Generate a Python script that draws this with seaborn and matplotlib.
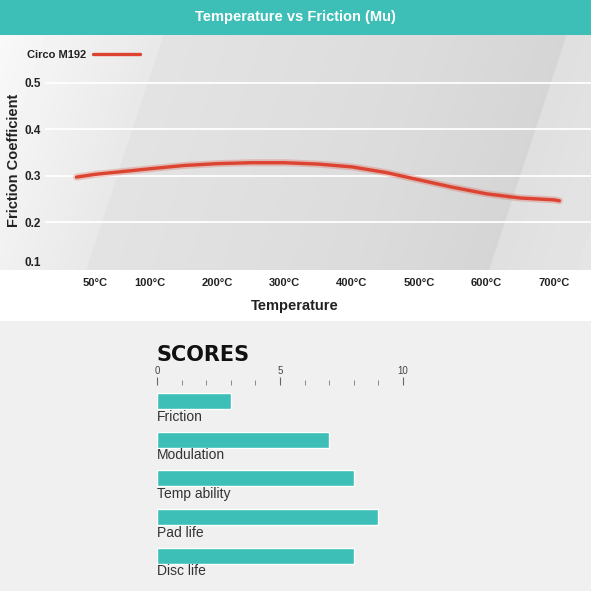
"""
Temperature vs friction curve for the Circo M192 pad, with its score card below.
"""

import numpy as np
import pandas as pd
import matplotlib
matplotlib.use('Agg')
import matplotlib.pyplot as plt
import seaborn as sns

# ─ data ─
temp_ticks = [50, 100, 200, 300, 400, 500, 600, 700]
temp_labels = ['50°C', '100°C', '200°C', '300°C', '400°C', '500°C', '600°C', '700°C']

curve_temp = [33, 50, 100, 150, 200, 250, 300, 350, 400, 450, 500, 550, 600, 650, 700, 708]
curve_mu = [0.297, 0.303, 0.315, 0.322, 0.326, 0.328, 0.328, 0.325, 0.319, 0.307,
            0.291, 0.275, 0.261, 0.252, 0.248, 0.246]
series_name = 'Circo M192'

score_names = ['Friction', 'Modulation', 'Temp ability', 'Pad life', 'Disc life']
score_values = [3, 7, 8, 9, 8]

TEAL = '#3dbfb7'
RED = '#dc4330'
W = H = 591


def axis_pos(t):
    # the chart draws the 50->100°C step wider than the other 100°C steps
    t = np.asarray(t, dtype=float)
    return np.where(t >= 100, t, 100 - (100 - t) * 1.63)


def fig_box(x0, y0, x1, y1):
    """pixel box (top-left origin) -> figure fraction rect"""
    return [x0 / W, 1 - y1 / H, (x1 - x0) / W, (y1 - y0) / H]


sns.set_theme(style='white')
plt.rcParams['font.family'] = ['Liberation Sans Narrow', 'Liberation Sans', 'DejaVu Sans']

fig = plt.figure(figsize=(5.91, 5.91), dpi=100)
fig.patch.set_facecolor('#f0f0f0')

# white upper half
white = fig.add_axes(fig_box(0, 0, W, 321))
white.set_facecolor('white')
white.set_xticks([]); white.set_yticks([])
for s in white.spines.values():
    s.set_visible(False)

# title banner
banner = fig.add_axes(fig_box(0, 0, W, 35))
banner.set_facecolor(TEAL)
banner.set_xticks([]); banner.set_yticks([])
for s in banner.spines.values():
    s.set_visible(False)
banner.text(0.5, 0.5, 'Temperature vs Friction (Mu)', color='white', fontsize=10.5,
            fontweight='bold', ha='center', va='center', transform=banner.transAxes,
            family=['Liberation Sans', 'DejaVu Sans'])

# shaded panel with slanted light bands
bg = fig.add_axes(fig_box(0, 35, W, 270))
xx, yy = np.meshgrid(np.arange(W), np.arange(35, 270))
s = xx + 0.33 * (yy - 35)
shade = np.interp(s, [0, 162, 164, 430, 565, 567, 700],
                  [0.975, 0.91, 0.89, 0.86, 0.835, 0.875, 0.905])
bg.imshow(shade, cmap='gray', vmin=0, vmax=1, aspect='auto',
          extent=[0, W, 270, 35])
bg.set_axis_off()

# ─ line chart ─
ax = fig.add_axes(fig_box(45, 35, W, 270))
ax.patch.set_alpha(0)
sns.lineplot(x=axis_pos(curve_temp), y=curve_mu, ax=ax, color=RED, lw=5,
             alpha=0.25, sort=False)
sns.lineplot(x=axis_pos(curve_temp), y=curve_mu, ax=ax, color=RED, lw=2.4,
             label=series_name, sort=False)

ax.set_xlim(-56, 755)
ax.set_ylim(0.097, 0.603)
ax.set_xticks(axis_pos(temp_ticks))
ax.set_xticklabels(temp_labels)
ax.set_yticks([0.1, 0.2, 0.3, 0.4, 0.5])
ax.set_yticklabels(['0.1', '0.2', '0.3', '0.4', '0.5'])
ax.yaxis.grid(True, color='white', lw=1.3)
ax.xaxis.grid(False)
ax.yaxis.get_gridlines()[0].set_visible(False)
ax.yaxis.get_ticklabels()[0].set_va('bottom')
for sp in ax.spines.values():
    sp.set_visible(False)
ax.tick_params(axis='x', length=0, pad=6, labelsize=8, labelcolor='#222')
ax.tick_params(axis='y', length=0, pad=3, labelsize=8.5, labelcolor='#222')
for lab in ax.get_xticklabels() + ax.get_yticklabels():
    lab.set_fontweight('bold')

ax.set_xlabel('Temperature', fontsize=10.5, fontweight='bold', color='#222')
ax.set_ylabel('Friction Coefficient', fontsize=10.5, fontweight='bold', color='#222')
ax.xaxis.set_label_coords((295 - 45) / 546, -(299 - 270) / 235)
ax.yaxis.set_label_coords(-(45 - 21) / 546, (270 - 160) / 235)

leg = ax.legend(loc='center left', bbox_to_anchor=(27 / W, 1 - 55 / H),
                bbox_transform=fig.transFigure, frameon=False, markerfirst=False,
                handlelength=4.2, handletextpad=0.6, borderpad=0, borderaxespad=0,
                prop={'weight': 'bold', 'size': 8})
for t in leg.get_texts():
    t.set_color('#222')

# ─ scores ─
fig.text(157 / W, 1 - 355 / H, 'SCORES', fontsize=15, fontweight='heavy',
         ha='left', va='center', color='#111', family=['DejaVu Sans'])

ax2 = fig.add_axes(fig_box(157, 385, 403, 580))
ax2.patch.set_alpha(0)
scores = pd.DataFrame({'name': score_names, 'score': score_values})
sns.barplot(data=scores, x='score', y='name', orient='h', color=TEAL,
            saturation=1, width=0.41, ax=ax2)
ax2.set_xlim(0, 10)
ax2.set_ylim(4.63, -0.413)
ax2.set_xlabel(''); ax2.set_ylabel('')
ax2.set_yticks([])
ax2.xaxis.tick_top()
ax2.set_xticks([0, 5, 10])
ax2.set_xticks(range(11), minor=True)
ax2.tick_params(axis='x', which='major', top=True, bottom=False, length=6, width=0.8,
                color='#666', labelsize=7, labelcolor='#444', pad=0.5, direction='out')
ax2.tick_params(axis='x', which='minor', top=True, bottom=False, length=3.5, width=0.7,
                color='#888', direction='out')
for sp in ax2.spines.values():
    sp.set_visible(False)
for i, name in enumerate(score_names):
    ax2.text(0, i + 0.41, name, fontsize=10, color='#333', ha='left', va='center',
             family=['Liberation Sans', 'DejaVu Sans'])

fig.savefig('out.png', dpi=100, facecolor=fig.get_facecolor())
